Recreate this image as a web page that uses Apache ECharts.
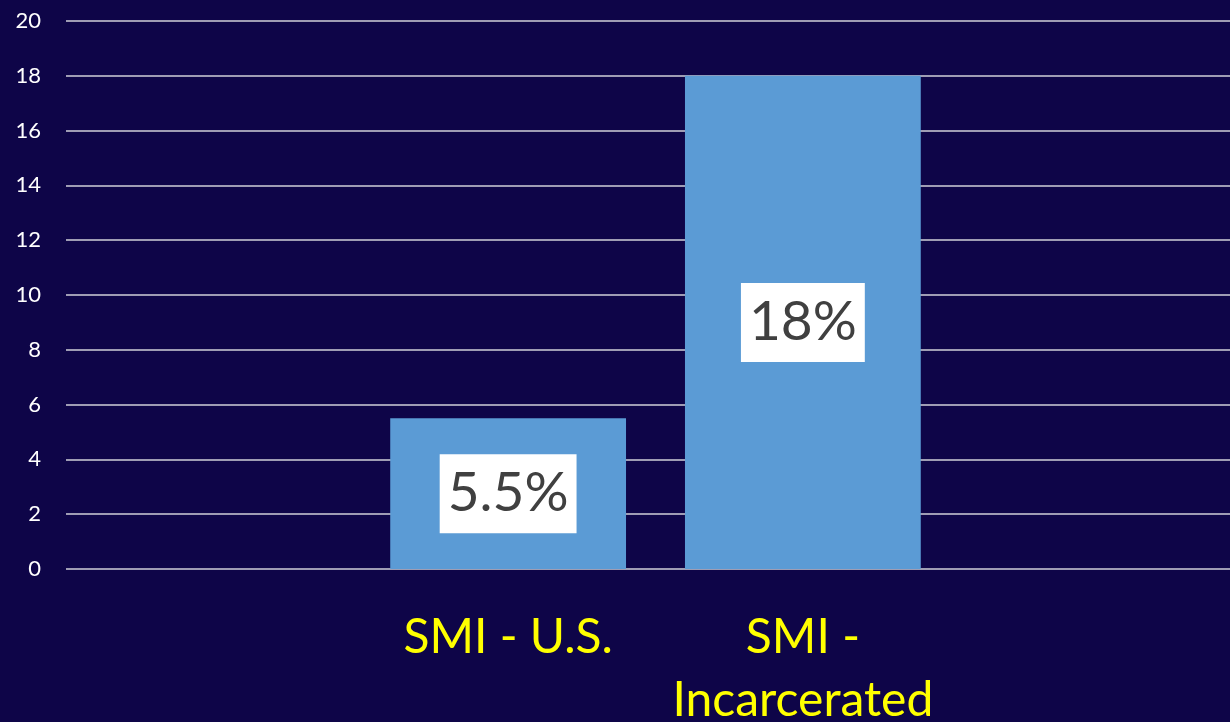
<!DOCTYPE html>
<html lang="en">
<head>
  <meta charset="UTF-8">
  <title>SMI</title>
  <script src="https://cdn.jsdelivr.net/npm/echarts@6/dist/echarts.min.js"></script>
  <style>
    html, body { margin: 0; padding: 0; background: #0e0548; }
    #main { width: 1230px; height: 722px; }
  </style>
</head>
<body>
  <div id="main"></div>
  <script>
    // data
    var categories = ['', 'SMI - U.S.', 'SMI -\nIncarcerated', '']
    var values = [null, 5.5, 18, null]
    var valueLabels = ['', '5.5%', '18%', '']

    var chart = echarts.init(document.getElementById('main'))

    var option = {
      backgroundColor: '#0e0548',
      animation: false,
      grid: { left: 66, right: -15, top: 21, bottom: 153, outerBoundsMode: 'none', containLabel: false },
      xAxis: {
        type: 'category',
        data: categories,
        axisLine: { show: false },
        axisTick: { show: false },
        axisLabel: {
          interval: 0,
          margin: 37,
          color: '#ffff00',
          fontFamily: 'Lato',
          fontSize: 48,
          lineHeight: 63,
          verticalAlign: 'top'
        }
      },
      yAxis: {
        type: 'value',
        min: 0,
        max: 20,
        interval: 2,
        axisLabel: { color: '#ffffff', fontFamily: 'Lato', fontSize: 22, margin: 25 },
        splitLine: { lineStyle: { color: '#d0d0d8', width: 1.5 } }
      },
      series: [{
        type: 'bar',
        data: values,
        barCategoryGap: '20%',
        itemStyle: { color: '#5b9bd5' },
        label: {
          show: true,
          position: 'inside',
          formatter: function (p) { return valueLabels[p.dataIndex] },
          color: '#404040',
          fontFamily: 'Lato',
          fontSize: 55,
          backgroundColor: '#ffffff',
          padding: [12, 8, 12, 8]
        }
      }]
    }

    chart.setOption(option)
  </script>
</body>
</html>
